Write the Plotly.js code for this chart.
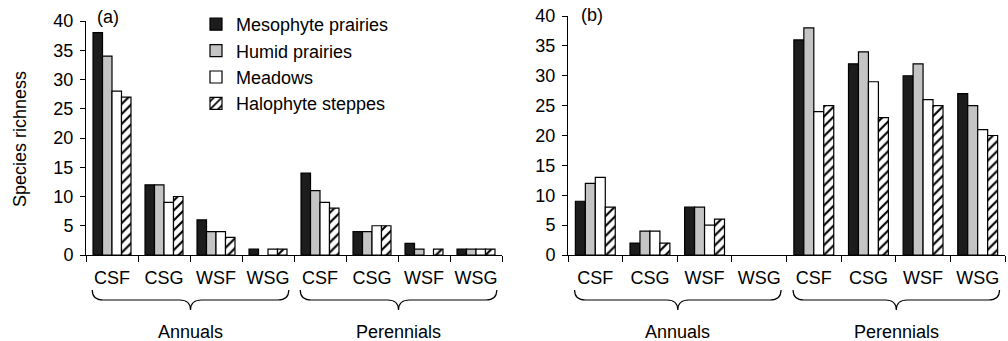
<!DOCTYPE html>
<html>
<head>
<meta charset="utf-8">
<script src="https://cdn.plot.ly/plotly-3.0.1.min.js"></script>
<style>html,body{margin:0;padding:0;background:#fff}#chart{width:1008px;height:341px}</style>
</head>
<body>
<div id="chart"></div>
<script>
// ---- data ----
const categories = ["CSF", "CSG", "WSF", "WSG"];
const groups = ["Annuals", "Perennials"];
const seriesNames = ["Mesophyte prairies", "Humid prairies", "Meadows", "Halophyte steppes"];
// panel (a): Annuals CSF,CSG,WSF,WSG then Perennials CSF,CSG,WSF,WSG
const aMesophyte = [38, 12, 6, 1, 14, 4, 2, 1];
const aHumid     = [34, 12, 4, 0, 11, 4, 1, 1];
const aMeadows   = [28, 9, 4, 1, 9, 5, 0, 1];
const aHalophyte = [27, 10, 3, 1, 8, 5, 1, 1];
// panel (b)
const bMesophyte = [9, 2, 8, 0, 36, 32, 30, 27];
const bHumid     = [12, 4, 8, 0, 38, 34, 32, 25];
const bMeadows   = [13, 4, 5, 0, 24, 29, 26, 21];
const bHalophyte = [8, 2, 6, 0, 25, 23, 25, 20];
const yTicks = [0, 5, 10, 15, 20, 25, 30, 35, 40];

// ---- build ----
const W = 1008, H = 341;
const FONT = "Liberation Sans, Arial, sans-serif";
const FS = 18;
const keys = [], tickLabels = [];
groups.forEach(g => categories.forEach(c => { keys.push(g + "|" + c); tickLabels.push(c); }));

const styles = [
  {color: "#1c1c1c"},
  {color: "#c4c4c4"},
  {color: "#ffffff"},
  {color: "#ffffff", pattern: {shape: "/", fgcolor: "#000", bgcolor: "#fff", size: 7, solidity: 0.3}}
];

function mk(vals, i, xa, ya, show) {
  const m = Object.assign({line: {color: "#000", width: vals.map(v => v === 0 ? 0 : 1.2)}}, styles[i]);
  return {type: "bar", x: keys, y: vals, name: seriesNames[i], marker: m,
          xaxis: xa, yaxis: ya, showlegend: show, hoverinfo: "y"};
}
const data = [
  mk(aMesophyte, 0, "x", "y", true), mk(aHumid, 1, "x", "y", true),
  mk(aMeadows, 2, "x", "y", true), mk(aHalophyte, 3, "x", "y", true),
  mk(bMesophyte, 0, "x2", "y2", false), mk(bHumid, 1, "x2", "y2", false),
  mk(bMeadows, 2, "x2", "y2", false), mk(bHalophyte, 3, "x2", "y2", false)
];

const px = v => v / W, py = v => 1 - v / H;
const dA = [px(86), px(502)], dB = [px(568), px(1005)];
const yA = [py(255), py(21)], yB = [py(255), py(16)];

function xaxis(dom, anchor) {
  return {domain: dom, anchor: anchor, type: "category", tickmode: "array",
    tickvals: keys, ticktext: tickLabels, tickson: "boundaries", ticks: "outside",
    ticklen: 6, tickcolor: "#000", tickwidth: 1, showline: true, linecolor: "#000",
    linewidth: 1, showgrid: false, zeroline: false, fixedrange: true, ticklabelstandoff: 6,
    tickfont: {family: FONT, size: FS, color: "#000"}, range: [-0.5, 7.5]};
}
function yaxis(dom, anchor) {
  return {domain: dom, anchor: anchor, range: [0, 40], tickvals: yTicks,
    ticks: "outside", ticklen: 5, tickcolor: "#000", showline: true, linecolor: "#000",
    linewidth: 1, showgrid: false, zeroline: false, fixedrange: true, ticklabelstandoff: 3,
    tickfont: {family: FONT, size: FS, color: "#000"}};
}

// braces under each group
const shapes = [], annotations = [];
function idxToPaper(dom, idx) { return dom[0] + (idx + 0.5) / 8 * (dom[1] - dom[0]); }
function brace(dom) {
  groups.forEach((g, gi) => {
    const x0 = idxToPaper(dom, gi * 4 - 0.38), x1 = idxToPaper(dom, gi * 4 + 3.4);
    const xm = (x0 + x1) / 2, r = px(11);
    const yt = py(290), ymid = py(300), yb = py(310);
    const p = `M${x0},${yt} Q${x0},${ymid} ${x0 + r},${ymid} L${xm - r},${ymid} Q${xm},${ymid} ${xm},${yb} ` +
              `Q${xm},${ymid} ${xm + r},${ymid} L${x1 - r},${ymid} Q${x1},${ymid} ${x1},${yt}`;
    shapes.push({type: "path", xref: "paper", yref: "paper", path: p, line: {color: "#000", width: 1.2}});
    annotations.push({xref: "paper", yref: "paper", x: xm, y: py(332), text: g, showarrow: false,
      xanchor: "center", yanchor: "middle", font: {family: FONT, size: FS, color: "#000"}});
  });
}
brace(dA); brace(dB);
annotations.push({xref: "paper", yref: "paper", x: px(108), y: py(17), text: "(a)", showarrow: false,
  xanchor: "center", yanchor: "middle", font: {family: FONT, size: FS, color: "#000"}});
annotations.push({xref: "paper", yref: "paper", x: px(592), y: py(15), text: "(b)", showarrow: false,
  xanchor: "center", yanchor: "middle", font: {family: FONT, size: FS, color: "#000"}});
annotations.push({xref: "paper", yref: "paper", x: px(20), y: py(139), text: "Species richness", showarrow: false,
  textangle: -90, xanchor: "center", yanchor: "middle", font: {family: FONT, size: FS, color: "#000"}});

const layout = {
  width: W, height: H, margin: {l: 0, r: 0, t: 0, b: 0},
  paper_bgcolor: "#fff", plot_bgcolor: "rgba(0,0,0,0)",
  barmode: "group", bargap: 0.27, bargroupgap: 0,
  xaxis: xaxis(dA, "y"), yaxis: yaxis(yA, "x"),
  xaxis2: xaxis(dB, "y2"), yaxis2: yaxis(yB, "x2"),
  showlegend: true,
  legend: {x: px(196), y: py(6), xanchor: "left", yanchor: "top", bgcolor: "rgba(0,0,0,0)",
    font: {family: FONT, size: FS, color: "#000"}, traceorder: "normal", itemwidth: 30,
    tracegroupgap: 0},
  shapes: shapes, annotations: annotations
};
Plotly.newPlot("chart", data, layout, {displayModeBar: false, staticPlot: true});
</script>
</body>
</html>
